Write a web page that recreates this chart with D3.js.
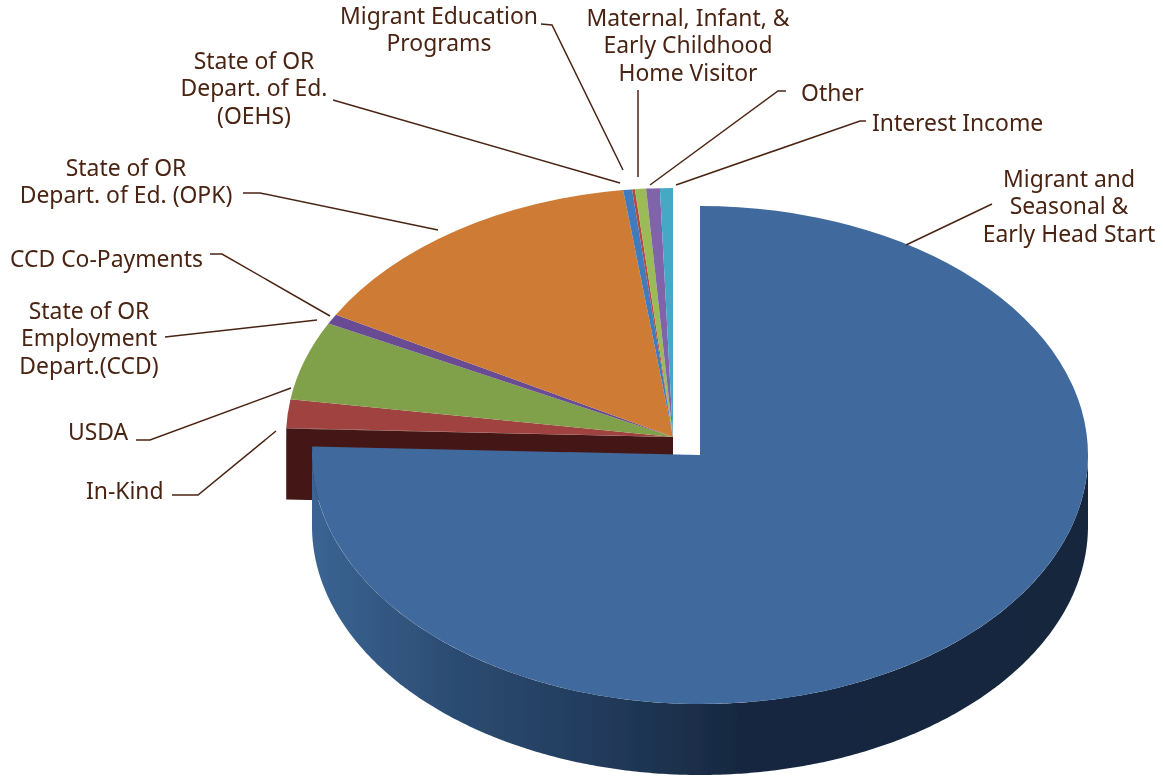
<!DOCTYPE html>
<html>
<head>
<meta charset="utf-8">
<script src="https://cdn.jsdelivr.net/npm/d3@7"></script>
<style>
  html, body { margin: 0; padding: 0; background: #fff; }
  svg { display: block; }
  text { font-family: "Noto Sans", sans-serif; font-size: 22.9px; fill: #4a2413; }
</style>
</head>
<body>
<svg id="chart" width="1163" height="780"></svg>
<script>
// 값은 그림에서 읽은 추정치 (%)
const categories = [
    "Migrant and Seasonal & Early Head Start", "In-Kind", "USDA",
    "State of OR Employment Depart.(CCD)", "CCD Co-Payments",
    "State of OR Depart. of Ed. (OPK)", "State of OR Depart. of Ed. (OEHS)",
    "Migrant Education Programs", "Maternal, Infant, & Early Childhood Home Visitor",
    "Other", "Interest Income"
];
const shares = [75.6, 0.03, 1.86, 5.1, 0.65, 14.78, 0.37, 0.12, 0.46, 0.57, 0.54];
const colors = ["#40699e", "#451915", "#a04340", "#80a04a", "#694b93", "#ce7c35",
    "#3f7bbd", "#b5483f", "#9bbb59", "#8064a8", "#45a9c6"];

// 라벨 배치
const labels = [
    { lines: ["Migrant and", "Seasonal &", "Early Head Start"], x: 1069, y: 187, anchor: "middle", lead: [[906, 245], [992, 204]] },
    { lines: ["In-Kind"], x: 86, y: 498.5, anchor: "start", lead: [[172, 495], [198, 495], [276, 431]] },
    { lines: ["USDA"], x: 68, y: 439.5, anchor: "start", lead: [[136, 440], [150, 440], [291, 388]] },
    { lines: ["State of OR", "Employment", "Depart.(CCD)"], x: 89, y: 319, anchor: "middle", lead: [[165, 337], [317, 320]] },
    { lines: ["CCD Co-Payments"], x: 10, y: 267, anchor: "start", lead: [[210, 254], [222, 254], [330, 316]] },
    { lines: ["State of OR", "Depart. of Ed. (OPK)"], x: 126, y: 175.5, anchor: "middle", lead: [[243, 193], [260, 193], [438, 230]] },
    { lines: ["State of OR", "Depart. of Ed.", "(OEHS)"], x: 254, y: 69, anchor: "middle", lead: [[333, 100], [620, 183]] },
    { lines: ["Migrant Education", "Programs"], x: 439, y: 24, anchor: "middle", lead: [[541, 24], [552, 25], [623, 170]] },
    { lines: ["Maternal, Infant, &", "Early Childhood", "Home Visitor"], x: 688, y: 26, anchor: "middle", lead: [[638, 177], [638, 90]] },
    { lines: ["Other"], x: 801, y: 101, anchor: "start", lead: [[650, 185], [778, 91], [786, 91]] },
    { lines: ["Interest Income"], x: 872, y: 131, anchor: "start", lead: [[676, 185], [860, 121], [866, 121]] }
];

const svg = d3.select("#chart");
const depth = 71;
const lineGap = 27.3;

// 큰 조각과 나머지 조각은 중심이 다르다 (분리된 파이)
const bigPie = { cx: 700, cy: 455, rx: 388, ry: 249 };
const restPie = { cx: 673, cy: 437, rx: 387, ry: 249 };

const pie = d3.pie().sort(null).value(d => d);
const slices = pie(shares);
const bigSlice = slices[0];
const restSlices = slices.slice(1);

const defs = svg.append("defs");
const wallGradient = defs.append("linearGradient")
    .attr("id", "wall-gradient")
    .attr("gradientUnits", "userSpaceOnUse")
    .attr("x1", bigPie.cx - bigPie.rx).attr("x2", bigPie.cx + bigPie.rx)
    .attr("y1", 0).attr("y2", 0);
[[0, "#3b6493"], [0.18, "#2c4c72"], [0.38, "#213a5a"], [0.55, "#17283f"], [1, "#16283e"]]
    .forEach(s => wallGradient.append("stop").attr("offset", s[0]).attr("stop-color", s[1]));

// 원본 이미지가 살짝 흐릿해서 가장자리만 약하게 흐림
defs.append("filter")
    .attr("id", "soft")
    .append("feGaussianBlur")
    .attr("stdDeviation", 0.7);

const pieLayer = svg.append("g").attr("filter", "url(#soft)");

// 나머지 조각의 잘린 면 (어두운 벽)
const cut = restSlices[0].startAngle;
const cutX = restPie.cx + restPie.rx * Math.sin(cut);
const cutY = restPie.cy - restPie.ry * Math.cos(cut);
pieLayer.append("path")
    .attr("fill", colors[1])
    .attr("d", d3.line()([
        [restPie.cx, restPie.cy],
        [cutX, cutY],
        [cutX, cutY + depth],
        [restPie.cx, restPie.cy + depth]
    ]));

// 나머지 조각 윗면
const restGroup = pieLayer.append("g")
    .attr("transform", `translate(${restPie.cx},${restPie.cy}) scale(1,${restPie.ry / restPie.rx})`);
restGroup.selectAll("path")
    .data(restSlices)
    .enter()
    .append("path")
    .attr("fill", (d, i) => colors[i + 1])
    .attr("d", d3.arc().innerRadius(0).outerRadius(restPie.rx));

// 큰 조각 옆면
const wallAngles = d3.range(90, 270.5, 0.5).map(d => d * Math.PI / 180);
const wall = d3.area()
    .x(t => bigPie.cx + bigPie.rx * Math.sin(t))
    .y0(t => bigPie.cy - bigPie.ry * Math.cos(t))
    .y1(t => bigPie.cy - bigPie.ry * Math.cos(t) + depth);
pieLayer.append("path")
    .attr("fill", "url(#wall-gradient)")
    .attr("d", wall(wallAngles));

// 큰 조각 윗면
pieLayer.append("g")
    .attr("transform", `translate(${bigPie.cx},${bigPie.cy}) scale(1,${bigPie.ry / bigPie.rx})`)
    .append("path")
    .datum(bigSlice)
    .attr("fill", colors[0])
    .attr("d", d3.arc().innerRadius(0).outerRadius(bigPie.rx));

// 지시선
svg.selectAll(".lead")
    .data(labels)
    .enter()
    .append("path")
    .attr("class", "lead")
    .attr("fill", "none")
    .attr("stroke", "#4a2413")
    .attr("stroke-width", 1.5)
    .attr("d", d => d3.line()(d.lead));

// 라벨
const labelText = svg.selectAll(".label")
    .data(labels)
    .enter()
    .append("text")
    .attr("class", "label")
    .attr("text-anchor", d => d.anchor);
labelText.selectAll("tspan")
    .data(d => d.lines.map((line, i) => ({ line, x: d.x, y: d.y + i * lineGap })))
    .enter()
    .append("tspan")
    .attr("x", d => d.x)
    .attr("y", d => d.y)
    .text(d => d.line);
</script>
</body>
</html>
